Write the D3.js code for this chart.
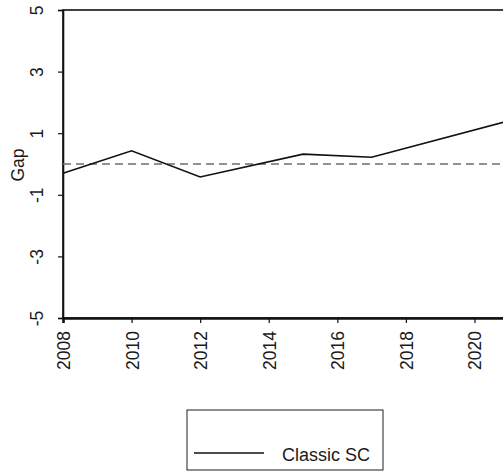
<!DOCTYPE html>
<html>
<head>
<meta charset="utf-8">
<script src="https://cdn.jsdelivr.net/npm/d3@7"></script>
<style>
  html, body { margin: 0; padding: 0; background: #fff; }
  svg { display: block; font-family: "Liberation Sans", Arial, sans-serif; }
</style>
</head>
<body>
<svg id="chart" width="503" height="472"></svg>
<script>
// ---- data ----
const years = [2008, 2010, 2012, 2015, 2017, 2021];
const gapValues = [-0.30, 0.43, -0.42, 0.32, 0.22, 1.40];
const xTicks = [2008, 2010, 2012, 2014, 2016, 2018, 2020];
const yTicks = [-5, -3, -1, 1, 3, 5];
const referenceLine = 0;
const seriesName = "Classic SC";
const yAxisTitle = "Gap";

(function () {
// ---- layout ----
const svg = d3.select("#chart");
const plotLeft = 63, plotTop = 10, plotBottom = 318;
const pxPerYear = 34.29;
const plotRight = plotLeft + (2022 - 2008) * pxPerYear;

const x = d3.scaleLinear().domain([2008, 2022]).range([plotLeft, plotRight]);
const y = d3.scaleLinear().domain([-5, 5]).range([plotBottom, plotTop]);

const fs = 17.5;
const fmt = d => String(d);

// plot box
svg.append("rect")
  .attr("x", plotLeft).attr("y", plotTop)
  .attr("width", plotRight - plotLeft).attr("height", plotBottom - plotTop)
  .attr("fill", "none").attr("stroke", "#111").attr("stroke-width", 1.6);

// y axis
const yAxis = d3.axisLeft(y).tickValues(yTicks).tickSize(5).tickFormat(fmt);
const gy = svg.append("g").attr("transform", `translate(${plotLeft},0)`).call(yAxis);
gy.select(".domain").attr("stroke", "#111").attr("stroke-width", 1.6);
gy.selectAll(".tick line").attr("stroke", "#111").attr("stroke-width", 1.2);
gy.selectAll(".tick text").remove();
gy.selectAll(".tick").append("text")
  .attr("transform", "translate(-20,0) rotate(-90)")
  .attr("text-anchor", "middle")
  .attr("fill", "#1a1a1a")
  .attr("font-size", fs)
  .text(fmt);

// x axis
const xAxis = d3.axisBottom(x).tickValues(xTicks).tickSize(5).tickFormat(fmt);
const gx = svg.append("g").attr("transform", `translate(0,${plotBottom})`).call(xAxis);
gx.select(".domain").attr("stroke", "#111").attr("stroke-width", 2.6);
gx.selectAll(".tick line").attr("stroke", "#111").attr("stroke-width", 1.2);
gx.selectAll(".tick text").remove();
gx.selectAll(".tick").append("text")
  .attr("transform", "translate(6.5,13) rotate(-90)")
  .attr("text-anchor", "end")
  .attr("fill", "#1a1a1a")
  .attr("font-size", fs)
  .text(fmt);

// y title
svg.append("text")
  .attr("transform", `translate(24,${y(0) + 1}) rotate(-90)`)
  .attr("text-anchor", "middle")
  .attr("fill", "#1a1a1a")
  .attr("font-size", fs)
  .text(yAxisTitle);

// reference dashed line
svg.append("line")
  .attr("x1", plotLeft).attr("x2", plotRight)
  .attr("y1", y(referenceLine)).attr("y2", y(referenceLine))
  .attr("stroke", "#6e6e6e").attr("stroke-width", 1.6)
  .attr("stroke-dasharray", "8,5");

// series line
const line = d3.line().x((d, i) => x(years[i])).y(d => y(d));
svg.append("path")
  .datum(gapValues)
  .attr("d", line)
  .attr("fill", "none")
  .attr("stroke", "#111")
  .attr("stroke-width", 1.6);

// legend
const lg = svg.append("g");
lg.append("rect")
  .attr("x", 187).attr("y", 410).attr("width", 196).attr("height", 60)
  .attr("fill", "none").attr("stroke", "#444").attr("stroke-width", 1.2);
lg.append("line")
  .attr("x1", 194).attr("x2", 264).attr("y1", 453).attr("y2", 453)
  .attr("stroke", "#111").attr("stroke-width", 1.6);
lg.append("text")
  .attr("x", 282).attr("y", 461)
  .attr("fill", "#1a1a1a")
  .attr("font-size", 18)
  .text(seriesName);
})();
</script>
</body>
</html>
